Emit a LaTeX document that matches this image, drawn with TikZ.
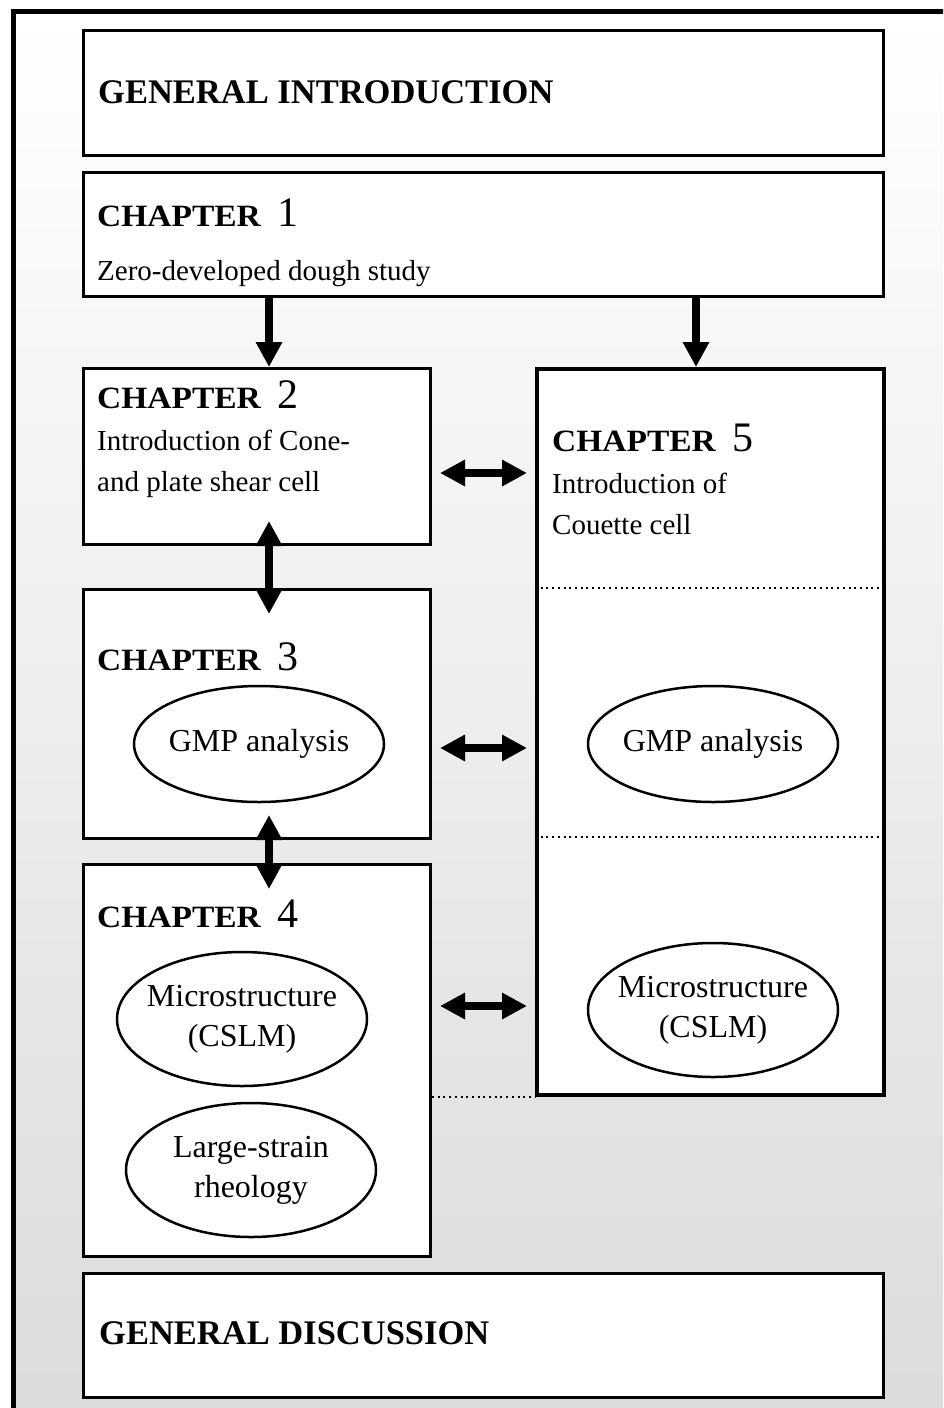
\documentclass[tikz,border=0pt]{standalone}
\usepackage{fontspec}
\usepackage{graphicx}
\setmainfont{Liberation Serif}
\usetikzlibrary{arrows.meta,shapes.geometric}

\newcommand{\bodyfont}{\fontsize{29}{39}\selectfont}
\newcommand{\bubblefont}{\fontsize{32}{40}\selectfont}
\newcommand{\partfont}{\fontsize{34.5}{40}\selectfont\bfseries}
\newcommand{\chaptitle}[1]{\scalebox{1.08}[1]{\fontsize{31}{32}\selectfont\bfseries CHAPTER}\hspace{17pt}{\fontsize{42}{44}\selectfont #1}}

\tikzset{
  chbox/.style={draw, line width=3pt, fill=white, anchor=north west, inner sep=0pt},
  bubble/.style={ellipse, draw, line width=2.5pt, fill=white, minimum width=250pt,
    minimum height=134pt, align=center, inner sep=-10pt, font=\bubblefont},
  headtext/.style={anchor=base west, inner sep=0pt},
  bodytext/.style={anchor=base west, inner sep=0pt, font=\bodyfont},
  onearrow/.style={line width=8pt, -{Triangle[length=25pt,width=25pt]}},
  dblarrow/.style={line width=8pt, {Triangle[length=25pt,width=25pt]}-{Triangle[length=25pt,width=25pt]}},
  sepline/.style={line width=2pt, dash pattern=on 2pt off 3.7pt},
}

\begin{document}
\begin{tikzpicture}[x=1pt, y=-1pt]

% page and background
\useasboundingbox (0,0) rectangle (943,1408);
\clip (0,0) rectangle (943,1408);
\shade[top color=white, bottom color=black!14] (13,11) rectangle (990,1420);
\draw[line width=5pt] (13,1440) -- (13,11) -- (990,11);

% boxes
\node[chbox, minimum width=800pt, minimum height=125pt] (intro) at (82,29) {};
\node[chbox, minimum width=800pt, minimum height=124pt] (ch1) at (82,171) {};
\node[chbox, minimum width=347pt, minimum height=176pt] (ch2) at (82,367) {};
\node[chbox, minimum width=347pt, minimum height=249pt] (ch3) at (82,588) {};
\node[chbox, minimum width=347pt, minimum height=392pt] (ch4) at (82,863) {};
\node[chbox, line width=4pt, minimum width=347pt, minimum height=726pt] (ch5) at (535,367) {};
\node[chbox, minimum width=800pt, minimum height=124pt] (disc) at (82,1272) {};

% dividers in chapter 5
\coordinate (cut1) at (0,588);
\coordinate (cut2) at (0,837);
\draw[sepline] (ch5.west |- cut1) -- (ch5.east |- cut1);
\draw[sepline] (ch5.west |- cut2) -- (ch5.east |- cut2);
\draw[sepline] (ch4.east |- ch5.south) -- (ch5.south west);

% texts
\node[headtext, font=\partfont] (introtxt) at (98,103) {GENERAL INTRODUCTION};
\node[headtext] (head1) at (97,226) {\chaptitle{1}};
\node[bodytext] (sub1) at (97,280) {Zero-developed dough study};
\node[headtext] (head2) at (97,408) {\chaptitle{2}};
\node[bodytext] (sub2a) at (97,450) {Introduction of Cone-};
\node[bodytext] (sub2b) at (97,491) {and plate shear cell};
\node[headtext] (head3) at (97,670) {\chaptitle{3}};
\node[headtext] (head4) at (97,927) {\chaptitle{4}};
\node[headtext] (head5) at (552,451) {\chaptitle{5}};
\node[bodytext] (sub5a) at (552,493) {Introduction of};
\node[bodytext] (sub5b) at (552,534) {Couette cell};
\node[headtext, font=\partfont] (disctxt) at (99,1344) {GENERAL DISCUSSION};

% ellipses
\node[bubble, minimum height=116pt] (gmp3) at (259,744) {GMP analysis};
\node[bubble] (micro4) at (242,1019) {Microstructure\\(CSLM)};
\node[bubble] (rheo4) at (251,1170) {Large-strain\\rheology};
\node[bubble, minimum height=116pt] (gmp5) at (713,744) {GMP analysis};
\node[bubble] (micro5) at (713,1010) {Microstructure\\(CSLM)};

% arrows
\coordinate (lx) at (269,0);
\coordinate (rx) at (696,0);
\coordinate (row2) at (0,473);
\coordinate (row3) at (0,748);
\coordinate (row4) at (0,1006);
\draw[onearrow] (ch1.south -| lx) -- (ch2.north -| lx);
\draw[onearrow] (ch1.south -| rx) -- (ch5.north -| rx);
\draw[dblarrow, shorten <=-25pt, shorten >=-26pt] (ch2.south -| lx) -- (ch3.north -| lx);
\draw[dblarrow, shorten <=-25pt, shorten >=-26pt] (ch3.south -| lx) -- (ch4.north -| lx);
\draw[dblarrow, shorten <=8pt, shorten >=8pt] (ch2.east |- row2) -- (ch5.west |- row2);
\draw[dblarrow, shorten <=8pt, shorten >=8pt] (ch3.east |- row3) -- (ch5.west |- row3);
\draw[dblarrow, shorten <=8pt, shorten >=8pt] (ch4.east |- row4) -- (ch5.west |- row4);

\end{tikzpicture}
\end{document}
